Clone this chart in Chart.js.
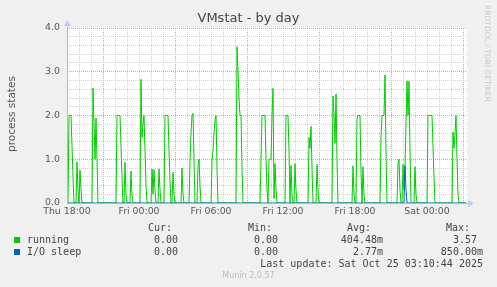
<!DOCTYPE html>
<html><head><meta charset="utf-8">
<script src="https://cdn.jsdelivr.net/npm/chart.js@4"></script>
<style>
html,body{margin:0;padding:0;background:#f0f0f0;}
#wrap{position:relative;width:497px;height:287px;overflow:hidden;background:#f0f0f0;}
#c{position:absolute;left:0;top:0;}
.m{position:absolute;white-space:pre;font-family:"DejaVu Sans Mono",monospace;font-size:10px;line-height:12px;color:#444;}
.r{text-align:right;}
.sq{position:absolute;width:6px;height:6px;}
#title{position:absolute;left:0;width:497px;top:10px;text-align:center;font-family:"DejaVu Sans",sans-serif;font-size:13px;line-height:16px;color:#444;}
#ytitle{position:absolute;left:-49px;top:107px;width:120px;height:14px;line-height:14px;text-align:center;font-family:"DejaVu Sans",sans-serif;font-size:10.5px;color:#555;transform:rotate(-90deg);}
#rrd{position:absolute;left:483px;top:5px;writing-mode:vertical-rl;font-family:"DejaVu Sans",sans-serif;font-size:7.5px;line-height:9px;color:#c8c8c8;white-space:pre;}
#munin{position:absolute;left:0;width:497px;top:271px;text-align:center;font-family:"DejaVu Sans",sans-serif;font-size:8px;line-height:10px;color:#bbb;}
</style></head>
<body>
<div id="wrap">
<canvas id="c" width="497" height="287"></canvas>
<div id="title">VMstat - by day</div>
<div id="ytitle">process states</div>
<div id="rrd">RRDTOOL / TOBI OETIKER</div>
<div id="legend"></div>
<div id="munin">Munin 2.0.57</div>
</div>
<script>
// time axis: one step = 5 minutes, step 0 = Thu 18:00
const xTickLabels = ['Thu 18:00', 'Fri 00:00', 'Fri 06:00', 'Fri 12:00', 'Fri 18:00', 'Sat 00:00'];
const yTickLabels = ['0.0', '1.0', '2.0', '3.0', '4.0'];

const runningStep = [
  0,1,2,3,4,5,6,7, 9,10,11,12,13,14,15,
  25,26,27,28,29,30,31, 49,50,51,52,53,54,55,56, 57,58,59,60, 63,64,65,66,
  73,74,75,76,77,78,79,80, 84,85,86,87,88,89, 91,92,93,94,
  97,98,99,100,101,102,103,104, 105,106,107,108, 114,115,116,117,
  122,123,124,125,126,127,128, 130,131,132,133,134,
  144,145,146,147,148,149,150,151, 169,170,171,172,173,174,175,176,
  193,194,195,196,197,198,199,200,201,202,203,204,205,206,207,208,209,210,
  218,219,220,221,222,223,224,225,226, 227,228,229,230,
  241,242,243,244,245,246, 249,250,251,252,
  265,266,267,268,269,270,271, 285,286,287,288,
  289,290,291,292,293,294,295,296,297,298,
  313,314,315,316,317,318,319,320, 330,331,332,333,334,
  335,336,337,338,339,340,341,342,343,344, 347,348,349,350,
  360,361,362,363,364,365,366,367,368, 385,386,387,388,389,390,391,392, 399
];
const runningValue = [
  0,0,2.0,2.0,2.0,1.3,0.6,0, 0,0.94,0.3,0,0.75,0.3,0,
  0,2.63,1.8,1.0,1.94,1.0,0, 0,2.0,2.0,2.0,2.0,1.3,0.6,0, 0,0.93,0.2,0, 0,0.73,0.2,0,
  0,2.83,1.5,1.8,2.0,1.2,0.4,0, 0,0.78,0.2,0.76,0.3,0, 0,0.78,0.3,0,
  0,2.0,2.0,2.0,2.0,1.2,0.5,0, 0,0.7,0.2,0, 0,0.8,0.2,0,
  0,0.95,1.6,2.0,2.05,1.0,0, 0,0.85,1.0,0.4,0,
  0,0.94,1.2,1.6,1.9,2.0,0.8,0, 0,3.57,3.0,2.4,2.0,2.0,0.8,0,
  0,1.0,2.0,2.0,2.0,2.0,1.0,0.3,0,1.0,1.0,1.0,2.0,2.62,0.1,0.9,0.3,0,
  0,2.0,2.0,2.0,1.2,0,0.86,0.2,0, 0,0.9,0.3,0,
  0,1.5,1.25,1.75,0.8,0, 0,0.88,0.3,0,
  0,2.45,2.0,1.36,2.49,1.0,0, 0,0.85,0.2,0,
  0,1.91,2.0,2.0,2.0,0.7,0,0.83,0.2,0,
  0,1.5,2.0,2.0,2.0,2.93,1.2,0, 0,0.93,1.0,0.3,0,
  0,0.89,0.3,0.8,1.8,2.79,2.0,2.78,1.2,0, 0,0.83,0.2,0,
  0,2.0,2.0,2.0,2.0,2.0,1.3,0.6,0, 0,1.62,1.25,1.6,2.0,1.0,0.2,0, 0
];
const ioSleepStep = [0, 337, 338, 339, 340, 399];
const ioSleepValue = [0, 0, 0.85, 0.3, 0, 0];

const seriesNames = ['running', 'I/O sleep'];
const seriesColors = ['#00cc00', '#0066b3'];
const curValues = ['0.00', '0.00'];
const minValues = ['0.00', '0.00'];
const avgValues = ['404.48m', '2.77m'];
const maxValues = ['3.57', '850.00m'];
const lastUpdate = 'Last update: Sat Oct 25 03:10:44 2025';

const MAJOR = '#e0a0a0';
const MINOR = '#cfcfcf';
const AXIS = '#a9b6ea';

// legend (HTML text)
(function(){
  const L = document.getElementById('legend');
  function add(txt, top, rightEdge, leftEdge){
    const d = document.createElement('div');
    d.className = 'm';
    d.textContent = txt;
    d.style.top = top + 'px';
    if (rightEdge !== undefined) { d.style.right = (497 - rightEdge) + 'px'; d.classList.add('r'); }
    else d.style.left = leftEdge + 'px';
    L.appendChild(d);
  }
  add('Cur:', 222, 172); add('Min:', 222, 272); add('Avg:', 222, 371); add('Max:', 222, 470);
  const tops = [234, 246];
  for (let i = 0; i < seriesNames.length; i++) {
    const sq = document.createElement('div');
    sq.className = 'sq';
    sq.style.left = '14px'; sq.style.top = (tops[i] + 3) + 'px';
    sq.style.background = seriesColors[i];
    L.appendChild(sq);
    add(seriesNames[i], tops[i], undefined, 27);
    add(curValues[i], tops[i], curValues[i].endsWith('m') ? 184 : 178);
    add(minValues[i], tops[i], minValues[i].endsWith('m') ? 284 : 278);
    add(avgValues[i], tops[i], avgValues[i].endsWith('m') ? 383 : 377);
    add(maxValues[i], tops[i], maxValues[i].endsWith('m') ? 483 : 477);
  }
  add(lastUpdate, 258, 483);
})();

const bgPlugin = {
  id: 'bg',
  beforeDraw(chart) {
    const {ctx, chartArea: a} = chart;
    ctx.save();
    ctx.fillStyle = '#f0f0f0';
    ctx.fillRect(0, 0, chart.width, chart.height);
    ctx.fillStyle = '#ffffff';
    ctx.fillRect(a.left, a.top, a.right - a.left, a.bottom - a.top);
    ctx.restore();
  }
};
const axisPlugin = {
  id: 'axes',
  afterDatasetsDraw(chart) {
    const {ctx, chartArea: a} = chart;
    ctx.save();
    ctx.fillStyle = AXIS;
    ctx.fillRect(a.left, a.bottom, a.right - a.left + 3, 1);
    ctx.fillRect(a.left, a.top - 4, 1, a.bottom - a.top + 5);
    ctx.fillStyle = '#c3c8f4';
    ctx.beginPath();
    ctx.moveTo(a.right + 1, a.bottom - 3);
    ctx.lineTo(a.right + 7, a.bottom + 0.5);
    ctx.lineTo(a.right + 1, a.bottom + 4);
    ctx.closePath(); ctx.fill();
    ctx.beginPath();
    ctx.moveTo(a.left - 3, a.top - 2);
    ctx.lineTo(a.left + 0.5, a.top - 8);
    ctx.lineTo(a.left + 4, a.top - 2);
    ctx.closePath(); ctx.fill();
    ctx.restore();
  }
};

function pts(xs, ys){ return xs.map((x, i) => ({x: x, y: ys[i]})); }

new Chart(document.getElementById('c'), {
  type: 'line',
  data: {
    datasets: [
      {label: seriesNames[0], data: pts(runningStep, runningValue), borderColor: seriesColors[0], borderWidth: 1, pointRadius: 0, tension: 0, fill: false, order: 2},
      {label: seriesNames[1], data: pts(ioSleepStep, ioSleepValue), borderColor: seriesColors[1], borderWidth: 1, pointRadius: 0, tension: 0, fill: false, order: 1}
    ]
  },
  options: {
    responsive: false, animation: false, devicePixelRatio: 1,
    layout: {padding: {left: 0, top: 28, right: 30, bottom: 64}},
    plugins: {legend: {display: false}, tooltip: {enabled: false}, title: {display: false}},
    scales: {
      x: {
        type: 'linear', min: 0, max: 400,
        afterFit(s) { s.height = 20; },
        ticks: {
          stepSize: 12, includeBounds: false, autoSkip: false, maxRotation: 0, minRotation: 0, padding: 3,
          color: '#555', font: {family: 'DejaVu Sans', size: 9.4},
          callback(v) { return v % 72 === 0 ? xTickLabels[v / 72] : ''; }
        },
        grid: {drawTicks: false, color(c) { return (c.tick && c.tick.value % 72 === 36) ? MAJOR : MINOR; }},
        border: {display: false, dash: [1, 1]}
      },
      y: {
        min: 0, max: 4,
        afterFit(s) { s.width = 67; },
        ticks: {
          stepSize: 0.2, autoSkip: false, padding: 7, color: '#555', font: {family: 'DejaVu Sans', size: 9.4},
          callback(v) { const r = Math.round(v); return Math.abs(v - r) < 1e-6 ? yTickLabels[r] : ''; }
        },
        grid: {drawTicks: false, color(c) { const v = c.tick ? c.tick.value : 0; return Math.abs(v - Math.round(v)) < 1e-6 ? MAJOR : MINOR; }},
        border: {display: false, dash: [1, 1]}
      }
    }
  },
  plugins: [bgPlugin, axisPlugin]
});
</script>
</body></html>
